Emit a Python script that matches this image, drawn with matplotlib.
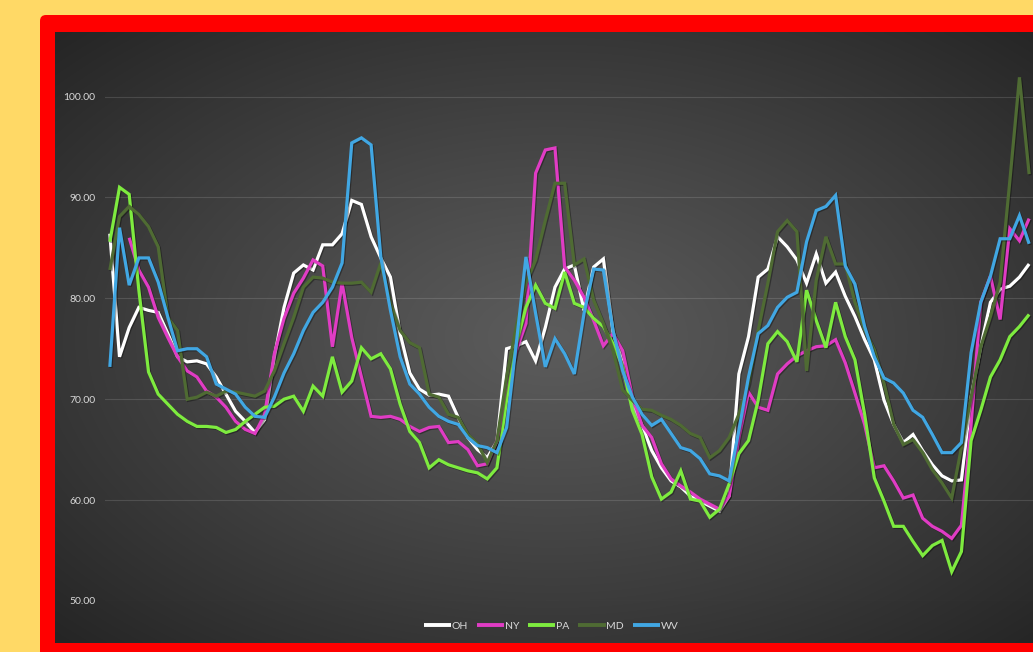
import numpy as np
import matplotlib
matplotlib.use("Agg")
import matplotlib.pyplot as plt
from matplotlib.patches import FancyBboxPatch
import matplotlib.patheffects as pe

# ---- data -------------------------------------------------------------
nan = np.nan
OH = [86.4, 74.2, 77.1, 79.1, 78.8, 78.6, 76.5, 74.2, 73.7, 73.8,
      73.5, 72.2, 70.5, 68.8, 67.8, 66.7, 68.0, 74.2, 79.1, 82.5,
      83.3, 82.8, 85.3, 85.3, 86.4, 89.7, 89.3, 86.1, 84.0, 82.1,
      76.5, 72.6, 71.0, 70.4, 70.5, 70.3, 68.2, 66.2, 65.0, 64.2,
      65.8, 75.0, 75.3, 75.7, 73.8, 77.1, 81.1, 82.9, 83.3, 78.8,
      83.1, 83.9, 76.7, 73.5, 69.5, 67.4, 64.9, 63.2, 61.9, 61.3,
      60.4, 59.9, 59.4, 58.9, 60.4, 72.5, 76.2, 82.1, 82.9, 86.1,
      85.1, 83.8, 81.5, 84.4, 81.5, 82.6, 80.2, 78.2, 75.9, 73.9,
      69.9, 67.5, 65.7, 66.5, 64.9, 63.5, 62.4, 61.9, 62.0, 70.2,
      75.2, 79.6, 80.9, 81.2, 82.1, 83.4]
NY = [nan, nan, 86.0, 82.8, 81.1, 78.1, 76.1, 74.2, 72.8, 72.2,
      70.8, 70.2, 69.2, 67.8, 67.0, 66.6, 68.5, 74.5, 78.0, 80.5,
      82.0, 83.8, 83.2, 75.2, 81.5, 76.1, 72.2, 68.3, 68.2, 68.3,
      68.0, 67.3, 66.8, 67.2, 67.3, 65.7, 65.8, 65.0, 63.4, 63.6,
      65.9, 70.5, 74.8, 77.5, 92.4, 94.7, 94.9, 83.1, 81.8, 80.1,
      77.8, 75.3, 76.5, 74.8, 70.2, 67.4, 66.2, 63.6, 62.1, 61.4,
      60.8, 60.1, 59.6, 59.1, 60.4, 66.2, 70.7, 69.2, 68.9, 72.5,
      73.5, 74.3, 74.8, 75.2, 75.3, 75.9, 73.6, 70.6, 67.5, 63.2,
      63.4, 61.9, 60.2, 60.5, 58.2, 57.4, 56.9, 56.2, 57.5, 67.5,
      79.6, 82.2, 77.9, 86.9, 85.7, 87.9]
PA = [85.6, 91.0, 90.3, 80.8, 72.7, 70.5, 69.5, 68.5, 67.8, 67.3,
      67.3, 67.2, 66.7, 67.0, 67.8, 68.5, 69.2, 69.3, 70.0, 70.3,
      68.8, 71.3, 70.3, 74.2, 70.7, 71.8, 75.1, 74.0, 74.5, 73.0,
      69.5, 66.8, 65.7, 63.2, 64.0, 63.5, 63.2, 62.9, 62.7, 62.1,
      63.2, 69.9, 75.5, 79.1, 81.3, 79.5, 79.0, 82.6, 79.5, 79.1,
      78.0, 77.2, 75.5, 73.2, 68.9, 66.5, 62.3, 60.1, 60.8, 62.9,
      60.1, 59.9, 58.3, 59.1, 61.6, 64.6, 65.9, 69.9, 75.5, 76.7,
      75.7, 73.7, 80.8, 77.8, 75.1, 79.6, 76.2, 73.9, 68.5, 62.2,
      59.9, 57.4, 57.4, 55.9, 54.5, 55.5, 56.0, 52.9, 54.9, 65.9,
      68.9, 72.2, 73.9, 76.2, 77.2, 78.4]
MD = [82.8, 88.1, 89.1, 88.3, 87.1, 85.1, 78.1, 76.8, 70.0, 70.2,
      70.7, 70.3, 70.8, 70.7, 70.5, 70.3, 70.8, 72.8, 75.5, 78.1,
      81.1, 82.1, 82.0, 81.6, 81.5, 81.5, 81.6, 80.6, 83.5, 79.5,
      76.8, 75.6, 75.1, 70.5, 70.2, 68.5, 68.2, 66.5, 65.6, 63.7,
      65.9, 72.2, 77.2, 81.5, 83.8, 87.7, 91.4, 91.4, 83.3, 83.9,
      79.8, 77.5, 74.8, 70.9, 69.9, 69.0, 68.9, 68.4, 68.0, 67.4,
      66.6, 66.2, 64.2, 64.9, 66.2, 68.5, 71.5, 76.8, 81.5, 86.6,
      87.7, 86.6, 72.8, 81.8, 86.1, 83.4, 83.4, 79.6, 76.9, 74.9,
      71.6, 67.5, 65.5, 66.0, 64.7, 63.0, 61.7, 60.2, 65.2, 70.2,
      75.2, 78.2, 81.6, 91.6, 101.9, 92.3]
WV = [73.2, 87.0, 81.3, 84.0, 84.0, 81.6, 78.1, 74.8, 75.0, 75.0,
      74.2, 71.5, 71.0, 70.5, 69.2, 68.3, 68.2, 70.2, 72.6, 74.5,
      76.8, 78.6, 79.6, 81.1, 83.5, 95.4, 95.9, 95.2, 84.1, 78.8,
      74.2, 71.5, 70.5, 69.2, 68.3, 67.8, 67.5, 66.2, 65.4, 65.2,
      64.7, 67.2, 75.5, 84.1, 78.5, 73.2, 76.0, 74.5, 72.5, 78.5,
      82.9, 82.8, 76.8, 72.8, 70.2, 68.5, 67.4, 68.0, 66.6, 65.2,
      64.9, 64.1, 62.6, 62.4, 61.9, 66.9, 72.2, 76.5, 77.3, 79.1,
      80.1, 80.6, 85.6, 88.7, 89.1, 90.2, 83.2, 81.4, 77.2, 74.2,
      72.1, 71.6, 70.6, 68.9, 68.2, 66.5, 64.7, 64.7, 65.7, 74.6,
      79.6, 82.2, 85.9, 85.9, 88.2, 85.4]

series_names = ["OH", "NY", "PA", "MD", "WV"]
series_values = [OH, NY, PA, MD, WV]
series_colors = ["#FFFFFF", "#E03CC4", "#7EEB3F", "#4F6B33", "#41A7E3"]
y_ticks = [50, 60, 70, 80, 90, 100]

# ---- canvas -----------------------------------------------------------
W, H = 1033, 652
fig = plt.figure(figsize=(W / 100, H / 100), dpi=100)
fig.patch.set_facecolor("#FFD966")


def fx(px):
    return px / W


def fy(py):
    return 1 - py / H


# red frame with rounded corners running off the right/bottom edges
frame_ax = fig.add_axes([0, 0, 1, 1], zorder=-2)
frame_ax.set_axis_off()
frame_ax.set_xlim(0, W)
frame_ax.set_ylim(H, 0)
frame_ax.add_patch(FancyBboxPatch((40, 15), 1090 - 40, 670 - 15,
                                  boxstyle="round,pad=0,rounding_size=6",
                                  facecolor="#FF0000", edgecolor="none"))

# dark chart area with a radial gradient
bg_left, bg_right, bg_top, bg_bottom = 55, 1050, 32, 643
bg = fig.add_axes([fx(bg_left), fy(bg_bottom), fx(bg_right - bg_left),
                   fy(bg_top) - fy(bg_bottom)], zorder=-1)
bg.set_axis_off()
nx, ny = 400, 260
gx = np.linspace(-1, 1, nx)
gy = np.linspace(-1, 1, ny)
GX, GY = np.meshgrid(gx, gy)
r = np.clip(np.sqrt(GX ** 2 + GY ** 2) / np.sqrt(2), 0, 1)
c_center, c_edge = 0x5C / 255, 0x25 / 255
shade = c_center + (c_edge - c_center) * r ** 1.1
img = np.dstack([shade, shade, shade])
bg.imshow(img, aspect="auto", extent=[0, 1, 0, 1], interpolation="bilinear")
bg.set_xlim(0, 1)
bg.set_ylim(0, 1)

# ---- plot -------------------------------------------------------------
n = len(OH)
step = 9.677
ax_left = 105
ax_right = ax_left + n * step
y_lo, y_hi = 50, 106
px_per_unit = 10.09
ax_bottom = 601
ax_top = ax_bottom - (y_hi - y_lo) * px_per_unit
ax = fig.add_axes([fx(ax_left), fy(ax_bottom), fx(ax_right - ax_left),
                   fy(ax_top) - fy(ax_bottom)])
ax.set_facecolor("none")
ax.set_xlim(-0.5, n - 0.5)
ax.set_ylim(y_lo, y_hi)
for s in ax.spines.values():
    s.set_visible(False)
ax.set_xticks([])
ax.set_yticks(y_ticks)
ax.set_yticklabels([f"{v:.2f}" for v in y_ticks])
ax.tick_params(axis="y", length=0, pad=7, labelsize=7.5,
               labelcolor="#D9D9D9")
for lab in ax.get_yticklabels():
    lab.set_fontfamily("Lato")
ax.yaxis.grid(True, color="white", alpha=0.13, linewidth=0.8)
ax.set_axisbelow(True)

x = np.arange(n)
shadow = [pe.SimpleLineShadow(offset=(0.8, -0.8), shadow_color="black",
                              alpha=0.35), pe.Normal()]
handles = []
for name, vals, col in zip(series_names, series_values, series_colors):
    ln, = ax.plot(x, vals, color=col, linewidth=2.3, label=name,
                  solid_joinstyle="miter", solid_capstyle="butt",
                  clip_on=False, path_effects=shadow)
    handles.append(ln)

leg = fig.legend(handles=handles, labels=series_names, loc="center",
                 bbox_to_anchor=(fx(551), fy(626)), ncol=5, frameon=False,
                 handlelength=2.6, handletextpad=0.05, columnspacing=0.9,
                 prop={"family": "Lato", "size": 7.5})
for t in leg.get_texts():
    t.set_color("#D9D9D9")
for lh in leg.get_lines():
    lh.set_path_effects([pe.Normal()])
    lh.set_linewidth(2.8)

fig.savefig("out.png", dpi=100, facecolor=fig.get_facecolor())
